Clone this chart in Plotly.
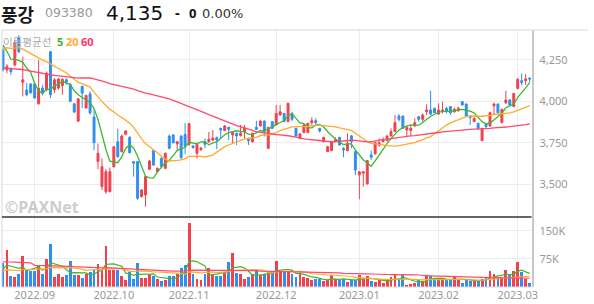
import plotly.graph_objects as go
import pandas as pd

# ---------------- data ----------------
holidays = ["2022-09-09", "2022-09-12", "2022-10-03", "2022-10-10",
            "2022-12-30", "2023-01-23", "2023-01-24", "2023-03-01"]
trade_days = [d.strftime("%Y-%m-%d") for d in pd.bdate_range("2022-08-22", "2023-03-07")
              if d.strftime("%Y-%m-%d") not in holidays]

opens = [4310, 4190, 4195, 4220, 4385, 4115, 4068, 4105, 4105, 3985,
         4080, 4070, 4300, 4070, 4080, 4095, 4130, 4100, 3985, 3880,
         4090, 3960, 4045, 3905, 3636, 3485, 3454, 3454, 3605, 3755,
         3696, 3801, 3782, 3636, 3636, 3424, 3434, 3589, 3702, 3575,
         3656, 3595, 3790, 3797, 3742, 3790, 3800, 3740, 3730, 3686,
         3708, 3756, 3756, 3766, 3781, 3837, 3823, 3843, 3797, 3807,
         3793, 3817, 3776, 3756, 3843, 3851, 3881, 3716, 3877, 3857,
         3917, 3927, 3877, 3927, 3837, 3776, 3811, 3811, 3871, 3883,
         3837, 3756, 3696, 3702, 3756, 3782, 3716, 3702, 3791, 3696,
         3555, 3565, 3501, 3676, 3682, 3736, 3756, 3762, 3791, 3817,
         3911, 3911, 3827, 3823, 3851, 3907, 3891, 3937, 3948, 3958,
         3923, 3937, 3958, 3968, 3937, 3943, 3998, 3984, 3911, 3877,
         3867, 3762, 3863, 3851, 3972, 3984, 3871, 3992, 4008, 3968,
         4078, 4125, 4125, 4140]
highs = [4325, 4225, 4205, 4370, 4400, 4270, 4110, 4110, 4110, 4250,
         4100, 4180, 4305, 4140, 4140, 4140, 4140, 4110, 3990, 4020,
         4095, 4040, 4060, 3950, 3745, 3655, 3590, 3600, 3730, 3835,
         3800, 3825, 3790, 3640, 3640, 3470, 3550, 3645, 3705, 3600,
         3660, 3690, 3800, 3800, 3760, 3795, 3870, 3870, 3735, 3750,
         3725, 3776, 3815, 3827, 3787, 3840, 3857, 3847, 3817, 3810,
         3857, 3857, 3780, 3810, 3883, 3885, 3885, 3845, 3880, 3978,
         3978, 3930, 3992, 3937, 3840, 3807, 3860, 3870, 3903, 3897,
         3840, 3785, 3730, 3760, 3782, 3786, 3722, 3807, 3797, 3700,
         3575, 3575, 3645, 3702, 3752, 3776, 3782, 3793, 3837, 3917,
         3923, 3913, 3847, 3863, 3897, 3911, 3927, 3982, 4064, 3962,
         3988, 3998, 3968, 3970, 3963, 3968, 4002, 3986, 3913, 3903,
         3871, 3840, 3865, 3937, 3992, 3986, 3955, 4064, 4012, 4050,
         4139, 4169, 4165, 4145]
lows = [4180, 4170, 4160, 4210, 4290, 4030, 4030, 4045, 4015, 3980,
        4035, 4060, 4020, 4050, 4070, 4040, 4100, 3995, 3930, 3875,
        3960, 3955, 3920, 3705, 3590, 3464, 3440, 3450, 3600, 3660,
        3690, 3795, 3685, 3545, 3404, 3420, 3364, 3585, 3610, 3570,
        3600, 3590, 3710, 3745, 3700, 3650, 3680, 3730, 3715, 3655,
        3700, 3716, 3750, 3760, 3710, 3776, 3820, 3766, 3746, 3736,
        3787, 3776, 3736, 3750, 3828, 3848, 3787, 3712, 3835, 3855,
        3915, 3875, 3875, 3880, 3786, 3772, 3808, 3808, 3855, 3857,
        3811, 3752, 3694, 3700, 3752, 3734, 3662, 3698, 3716, 3555,
        3408, 3484, 3498, 3646, 3680, 3726, 3754, 3760, 3789, 3815,
        3877, 3835, 3791, 3791, 3847, 3877, 3877, 3917, 3917, 3929,
        3917, 3927, 3927, 3917, 3931, 3937, 3975, 3909, 3857, 3875,
        3827, 3760, 3837, 3847, 3917, 3929, 3868, 3984, 3972, 3965,
        4072, 4099, 4099, 4113]
closes = [4190, 4212, 4180, 4355, 4300, 4130, 4040, 4052, 4020, 4078,
          4050, 4170, 4040, 4130, 4135, 4133, 4115, 4000, 3935, 4015,
          4050, 4035, 3930, 3750, 3686, 3605, 3575, 3575, 3725, 3665,
          3790, 3821, 3690, 3626, 3414, 3464, 3545, 3640, 3615, 3595,
          3605, 3686, 3716, 3750, 3756, 3660, 3730, 3865, 3720, 3740,
          3718, 3740, 3770, 3778, 3766, 3827, 3851, 3831, 3811, 3791,
          3807, 3837, 3762, 3807, 3831, 3881, 3817, 3843, 3837, 3927,
          3937, 3877, 3988, 3891, 3790, 3803, 3857, 3867, 3883, 3871,
          3821, 3782, 3726, 3756, 3770, 3736, 3706, 3746, 3756, 3585,
          3575, 3575, 3642, 3662, 3750, 3750, 3766, 3791, 3817, 3871,
          3891, 3837, 3843, 3837, 3871, 3891, 3917, 3948, 3923, 3931,
          3948, 3948, 3937, 3931, 3952, 3958, 3978, 3911, 3903, 3897,
          3837, 3837, 3847, 3931, 3984, 3931, 3952, 4008, 3978, 4048,
          4133, 4113, 4135, 4135]
volumes = [63000, 98000, 28600, 26800, 34000, 82000, 46500, 42000, 42000, 58000,
           34000, 76000, 114000, 26800, 34000, 26800, 31300, 68800, 31000, 31000,
           24000, 34000, 40000, 45000, 61000, 46500, 109000, 46500, 44700, 46500,
           29500, 18000, 40000, 20500, 64000, 25000, 24000, 34000, 29500, 20500,
           15000, 18000, 29500, 28600, 34000, 51000, 60000, 171000, 34000, 22000,
           18000, 36000, 52000, 36000, 30000, 29500, 40000, 66000, 91000, 38000,
           36000, 22000, 27000, 34000, 45000, 31000, 34000, 40000, 42000, 69000,
           40000, 40000, 40000, 36000, 27000, 38000, 27000, 24000, 18000, 22000,
           22000, 15000, 18000, 31000, 20500, 18000, 22000, 13000, 19600, 19600,
           31000, 22000, 28600, 16000, 13400, 20500, 9800, 18000, 27000, 31000,
           20500, 31000, 5400, 8000, 11600, 18000, 16000, 30400, 29500, 20500,
           18000, 18000, 19600, 22000, 27000, 20500, 11600, 22000, 15000, 15000,
           16000, 22000, 24000, 42000, 34000, 27000, 27000, 44700, 31000, 43000,
           66000, 40000, 22000, 11600]
# closes / volumes of the 59 sessions before the window (read back from the MA lines)
prior_closes = [4300, 4320, 4350, 4370, 4340, 4330, 4360, 4360,
                4350, 4320, 4300, 4330, 4340, 4310, 4340, 4350,
                4200, 4100, 4050, 3980, 3990, 4010, 4020, 4010,
                4030, 4060, 4080, 4050, 4040, 4070, 4060, 4050, 4055,
                3980, 3950, 3920, 3930, 3950, 3940, 3960, 3930,
                4250, 4280, 4300, 4290, 4310, 4320, 4300, 4330,
                4320, 4350, 4380, 4360, 4390, 4378, 4400, 4420, 4360, 4330]
prior_volumes = [60000, 75000, 55000, 80000, 70000, 65000, 90000, 450000, 70000, 60000,
                 85000, 75000, 55000, 65000, 80000, 70000, 60000, 95000, 75000, 65000,
                 55000, 70000, 85000, 60000, 75000, 65000, 70000, 55000, 80000, 60000,
                 65000, 75000, 70000, 60000, 55000, 85000, 65000, 70000, 60000, 75000,
                 45000, 38000, 50000, 35000, 42000, 40000, 48000, 36000, 44000, 39000,
                 41000, 46000, 37000, 43000, 40000, 45000, 42000, 38000, 50000]

ma_windows = [5, 20, 60]
price_ticks = [3500, 3750, 4000, 4250]
volume_ticks = [75000, 150000]
volume_tick_text = ["75K", "150K"]

# ---------------- derived ----------------
n0 = len(prior_closes)
cs = pd.Series(prior_closes + closes)
vs = pd.Series(prior_volumes + volumes)
price_ma = {w: cs.rolling(w).mean().iloc[n0:].tolist() for w in ma_windows}
vol_ma = {w: vs.rolling(w).mean().iloc[n0:].tolist() for w in ma_windows}

month_vals, month_text = [], []
for a, b in zip(trade_days[:-1], trade_days[1:]):
    if a[:7] != b[:7]:
        month_vals.append(b)
        month_text.append(b[:7].replace("-", "."))

RED = "#f0414d"
BLUE = "#2e8ff0"
MA_COL = {5: "#3cba2e", 20: "#ffaa2c", 60: "#ff4a6e"}
vol_colors = [RED if c >= o else BLUE for o, c in zip(opens, closes)]

W, H = 594, 304
L, R = 2, 537
PT, PB, VB = 30, 217, 287
fx = lambda p: p / W
fy = lambda p: 1 - p / H

fig = go.Figure()
fig.add_trace(go.Candlestick(
    x=trade_days, open=opens, high=highs, low=lows, close=closes,
    increasing=dict(line=dict(color=RED, width=1), fillcolor=RED),
    decreasing=dict(line=dict(color=BLUE, width=1), fillcolor=BLUE),
    whiskerwidth=0, xaxis="x", yaxis="y", hoverinfo="skip"))
for w in ma_windows:
    fig.add_trace(go.Scatter(x=trade_days, y=price_ma[w], mode="lines",
                             line=dict(color=MA_COL[w], width=1.3),
                             xaxis="x", yaxis="y", hoverinfo="skip"))
fig.add_trace(go.Bar(x=trade_days, y=volumes, marker=dict(color=vol_colors, line=dict(width=0)),
                     width=0.72, xaxis="x2", yaxis="y2", hoverinfo="skip"))
for w in ma_windows:
    fig.add_trace(go.Scatter(x=trade_days, y=vol_ma[w], mode="lines",
                             line=dict(color=MA_COL[w], width=1.2),
                             xaxis="x2", yaxis="y2", hoverinfo="skip"))

tick_font = dict(family="Noto Sans", size=11, color="#999999")
common_x = dict(domain=[fx(L), fx(R)], type="category", range=[-0.25, len(trade_days) - 0.5],
                tickvals=month_vals, showgrid=True, gridcolor="#ececec", gridwidth=1,
                zeroline=False, showline=False, ticks="", fixedrange=True)
fig.update_layout(
    width=W, height=H, margin=dict(l=0, r=0, t=0, b=0),
    paper_bgcolor="white", plot_bgcolor="white", showlegend=False, bargap=0,
    xaxis=dict(common_x, anchor="y", showticklabels=False, rangeslider=dict(visible=False)),
    xaxis2=dict(common_x, anchor="y2", matches="x", ticktext=month_text, tickfont=tick_font,
                showticklabels=True),
    yaxis=dict(domain=[fy(PB), fy(PT)], side="right", range=[3301, 4431],
               tickvals=price_ticks, ticktext=[f"{v:,}" for v in price_ticks],
               tickfont=tick_font, gridcolor="#ececec", showline=True, linecolor="#c8c8c8",
               linewidth=1.5, zeroline=False, ticks="", ticklabelstandoff=4),
    yaxis2=dict(domain=[fy(VB), fy(PB)], side="right", range=[0, 187000],
                tickvals=volume_ticks, ticktext=volume_tick_text,
                tickfont=tick_font, gridcolor="#ececec", showline=True, linecolor="#c8c8c8",
                linewidth=1.5, zeroline=False, ticks="", ticklabelstandoff=4),
)

shapes = [
    dict(type="line", xref="paper", yref="paper", x0=fx(L), x1=1, y0=fy(PT), y1=fy(PT),
         line=dict(color="#d8d8d8", width=1)),
    dict(type="line", xref="paper", yref="paper", x0=fx(L), x1=fx(L), y0=fy(VB), y1=fy(PT),
         line=dict(color="#d8d8d8", width=1)),
    dict(type="line", xref="paper", yref="paper", x0=fx(L), x1=fx(R), y0=fy(VB), y1=fy(VB),
         line=dict(color="#d8d8d8", width=1)),
    dict(type="line", xref="paper", yref="paper", x0=fx(L), x1=fx(R), y0=fy(PB), y1=fy(PB),
         line=dict(color="#333333", width=1.5)),
]
fig.update_layout(shapes=shapes)


def ann(text, x, y, size, color, family="Noto Sans", yanchor="middle"):
    return dict(text=text, x=fx(x), y=fy(y), xref="paper", yref="paper",
                xanchor="left", yanchor=yanchor, showarrow=False, borderpad=0,
                font=dict(family=family, size=size, color=color))


annotations = [
    ann("<b>풍강</b>", 0, 0, 18, "#1a1a1a", "Noto Sans CJK KR", "top"),
    ann("093380", 44, 4.5, 12.5, "#999999", "DejaVu Sans", "top"),
    ann("4,135", 106, 0, 20, "#111111", "DejaVu Sans", "top"),
    ann("<b>-</b>", 176, 0.5, 15, "#111111", "Noto Sans", "top"),
    ann("<b>0</b>", 190, 2.8, 13, "#111111", "Noto Sans", "top"),
    ann("0.00%", 203, 4.6, 13, "#333333", "DejaVu Sans", "top"),
    ann("이동평균선", 2, 41, 10.5, "#aaaaaa", "Noto Sans CJK KR"),
    ann("<b>5</b>", 57, 41, 11, "#33bb22"),
    ann("<b>20</b>", 66, 41, 11, "#ffaa33"),
    ann("<b>60</b>", 81, 41, 11, "#ff3366"),
    ann("<b>©PAXNet</b>", 4, 207, 16, "rgba(170,170,170,0.6)"),
]
fig.update_layout(annotations=annotations)

fig.write_html("out.html")
